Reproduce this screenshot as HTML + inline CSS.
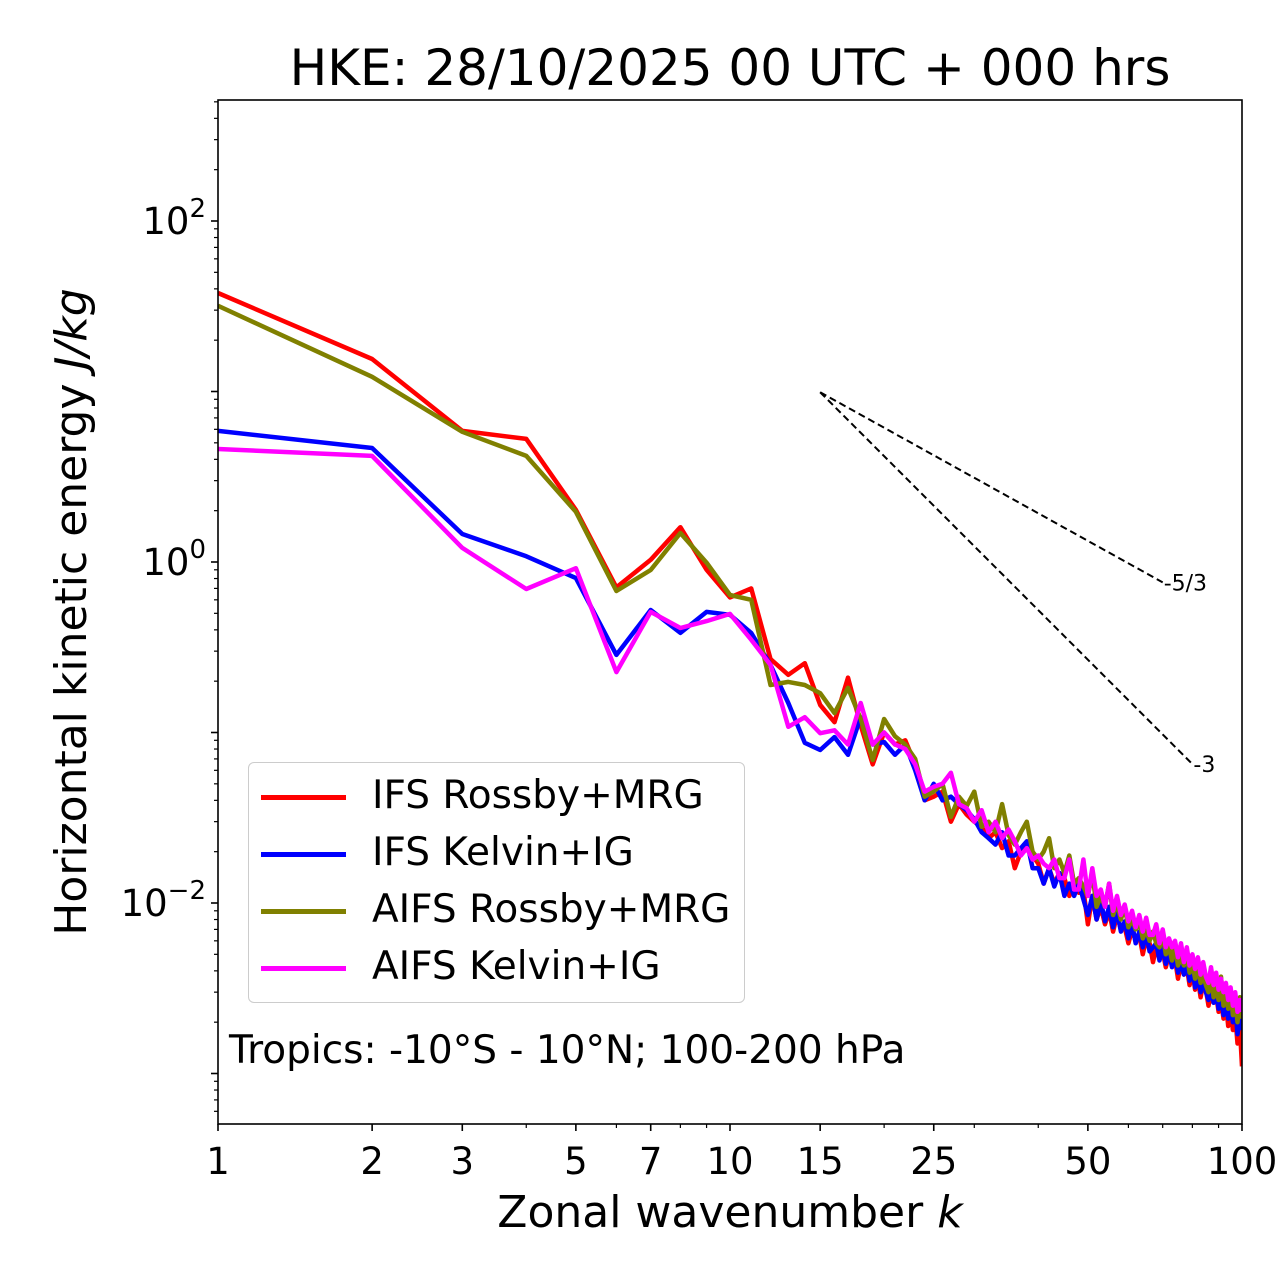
<!DOCTYPE html>
<html><head><meta charset="utf-8"><style>
body{margin:0;background:#fff;}
svg{display:block;font-family:"DejaVu Sans","Liberation Sans",sans-serif;}
</style></head><body>
<svg id="chart" width="1280" height="1288" viewBox="0 0 1280 1288">
<rect x="0" y="0" width="1280" height="1288" fill="#fff"/>
<g id="marks"></g>
<g id="axes"></g>
</svg>
<script>
const wavenumbers = Array.from({length:100},(_, i)=>i+1);
const ifsRossby = [37.8,15.5,5.87,5.27,2.02,0.71,1.03,1.6,0.9,0.62,0.7,0.27,0.218,0.255,0.145,0.115,0.21,0.11,0.065,0.1,0.085,0.09,0.065,0.04,0.042,0.045,0.03,0.038,0.033,0.03,0.028,0.024,0.026,0.021,0.023,0.016,0.02,0.022,0.019,0.017,0.013,0.016,0.013,0.015,0.014,0.011,0.013,0.0115,0.012,0.0075,0.011,0.008,0.0095,0.0075,0.009,0.0068,0.0085,0.007,0.0072,0.0058,0.007,0.006,0.0065,0.005,0.0062,0.0058,0.0045,0.0055,0.0048,0.0052,0.0042,0.005,0.0043,0.0047,0.0036,0.0044,0.0038,0.0042,0.0033,0.004,0.0031,0.0036,0.0028,0.0034,0.0031,0.0025,0.003,0.0026,0.0029,0.0023,0.0027,0.0021,0.0026,0.0019,0.0024,0.0018,0.0022,0.0015,0.0019,0.0011];
const ifsKelvin = [5.87,4.66,1.46,1.08,0.805,0.285,0.523,0.384,0.51,0.49,0.384,0.249,0.149,0.087,0.079,0.094,0.074,0.123,0.085,0.088,0.074,0.085,0.06,0.04,0.05,0.04,0.042,0.038,0.035,0.031,0.026,0.024,0.022,0.026,0.019,0.019,0.021,0.023,0.016,0.016,0.013,0.016,0.0125,0.015,0.011,0.013,0.011,0.013,0.0105,0.0085,0.011,0.008,0.0102,0.0078,0.0095,0.0072,0.009,0.0068,0.0078,0.0062,0.0075,0.0058,0.0068,0.0055,0.0066,0.0052,0.0055,0.0058,0.0046,0.0055,0.0044,0.0052,0.0042,0.005,0.0039,0.0046,0.0038,0.0044,0.0035,0.0042,0.0032,0.0038,0.003,0.0036,0.003,0.0027,0.0033,0.0026,0.0031,0.0024,0.0029,0.0022,0.0028,0.0021,0.0026,0.002,0.0025,0.0017,0.0021,0.0018];
const aifsRossby = [31.8,12.2,5.8,4.19,1.97,0.676,0.897,1.48,0.99,0.64,0.6,0.19,0.198,0.19,0.17,0.13,0.183,0.12,0.069,0.12,0.095,0.085,0.07,0.042,0.045,0.05,0.032,0.042,0.037,0.045,0.028,0.03,0.026,0.038,0.025,0.022,0.026,0.03,0.02,0.018,0.02,0.024,0.016,0.018,0.015,0.019,0.013,0.014,0.0125,0.011,0.015,0.0095,0.011,0.0095,0.013,0.0085,0.01,0.008,0.0095,0.0072,0.008,0.007,0.0078,0.0062,0.007,0.006,0.0068,0.0058,0.0055,0.0065,0.005,0.0055,0.0046,0.0056,0.0043,0.0048,0.0043,0.005,0.0039,0.0044,0.0036,0.0042,0.0034,0.0038,0.0033,0.003,0.0039,0.0028,0.0032,0.0027,0.0037,0.0025,0.003,0.0024,0.0031,0.0022,0.0027,0.002,0.0028,0.0021];
const aifsKelvin = [4.6,4.19,1.21,0.694,0.92,0.226,0.51,0.41,0.45,0.496,0.35,0.249,0.108,0.123,0.099,0.103,0.085,0.149,0.085,0.1,0.085,0.08,0.065,0.045,0.048,0.05,0.058,0.038,0.036,0.03,0.035,0.026,0.03,0.024,0.027,0.023,0.019,0.021,0.018,0.019,0.017,0.016,0.018,0.014,0.014,0.018,0.012,0.012,0.018,0.011,0.016,0.011,0.012,0.0095,0.013,0.009,0.011,0.0085,0.0098,0.0078,0.009,0.0072,0.0085,0.0068,0.0082,0.0065,0.0065,0.0075,0.0058,0.007,0.0055,0.0062,0.0055,0.006,0.0048,0.0058,0.0045,0.0055,0.0043,0.005,0.0041,0.0048,0.0038,0.0045,0.0037,0.0034,0.0042,0.0033,0.0039,0.0031,0.0036,0.003,0.0034,0.0027,0.0032,0.0025,0.003,0.0023,0.0027,0.0023];
const seriesNames = ["IFS Rossby+MRG","IFS Kelvin+IG","AIFS Rossby+MRG","AIFS Kelvin+IG"];
const seriesColors = ["#ff0000","#0000ff","#808000","#ff00ff"];
const xTickValues = [1,2,3,5,7,10,15,25,50,100];
const yTickExponents = [-2,0,2];
const refStartK = 15, refStartE = 9.9;
const refSlopes = [-5/3,-3];
const refEndK = [70,80];
const refLabels = ["-5/3","-3"];

const L=218,R=1242,T=100,B=1124;
const X=k=>L+(R-L)*Math.log10(k)/2;
const Y=v=>562-170.5*Math.log10(v);
const NS="http://www.w3.org/2000/svg";
function mk(tag,attrs,parent){const e=document.createElementNS(NS,tag);for(const a in attrs)e.setAttribute(a,attrs[a]);parent.appendChild(e);return e;}
const marks=document.getElementById('marks'), axes=document.getElementById('axes'), svg=document.getElementById('chart');

const clip=mk('clipPath',{id:'pc'},svg);mk('rect',{x:L,y:T,width:R-L,height:B-T},clip);
marks.setAttribute('clip-path','url(#pc)');
const allSeries=[ifsRossby,ifsKelvin,aifsRossby,aifsKelvin];
const keys=['ifs-rossby-line','ifs-kelvin-line','aifs-rossby-line','aifs-kelvin-line'];
allSeries.forEach((s,i)=>{
  const d=s.map((v,j)=>(j?'L':'M')+X(wavenumbers[j]).toFixed(1)+','+Y(v).toFixed(1)).join('');
  const p=mk('path',{d:d,fill:'none',stroke:seriesColors[i],'stroke-width':4.5,'stroke-linejoin':'round'},marks);
  
  
});
refSlopes.forEach((sl,i)=>{
  const e2=refStartE*Math.pow(refEndK[i]/refStartK,sl);
  const l=mk('line',{x1:X(refStartK),y1:Y(refStartE),x2:X(refEndK[i]),y2:Y(e2),stroke:'#000','stroke-width':2,'stroke-dasharray':'7,4'},marks);
  
  
  const t=mk('text',{x:X(refEndK[i])+1,y:Y(e2)+8,'font-size':22},axes);
  t.textContent=refLabels[i];
  
  
});
const fr=mk('rect',{x:L,y:T,width:R-L,height:B-T,fill:'none',stroke:'#000','stroke-width':1.6},axes);


xTickValues.forEach(k=>{
  const tk=mk('line',{x1:X(k),y1:B,x2:X(k),y2:B+7,stroke:'#000','stroke-width':1.6},axes);
  
  
  const t=mk('text',{x:X(k),y:B+50,'font-size':37,'text-anchor':'middle'},axes);
  t.textContent=String(k);
  
  
});
for(let d=1;d<=10;d*=10)for(let m=2;m<=9;m++){const k=m*d;if(xTickValues.includes(k))continue;
  const tk=mk('line',{x1:X(k),y1:B,x2:X(k),y2:B+4,stroke:'#000','stroke-width':1.2},axes);
  
  }
for(let e=-4;e<=3;e++){for(let m=1;m<=9;m++){const v=m*Math.pow(10,e);const y=Y(v);if(y<T-0.5||y>B+0.5)continue;
  const tk=mk('line',{x1:L-(m===1?7:4),y1:y,x2:L,y2:y,stroke:'#000','stroke-width':m===1?1.6:1.2},axes);
  
  }}
yTickExponents.forEach(e=>{
  const t=mk('text',{x:L-12,y:Y(Math.pow(10,e))+13,'font-size':37,'text-anchor':'end'},axes);
  t.innerHTML='10<tspan dy="-17" font-size="26">'+(e<0?'\u2212'+(-e):e)+'</tspan>';
  
  
});
</script>
<div style="position:absolute;left:0;top:0;width:1280px;height:1288px;pointer-events:none;font-family:'DejaVu Sans','Liberation Sans',sans-serif;">
  <div style="position:absolute;left:130px;top:38px;width:1200px;text-align:center;font-size:50px;line-height:60px;">HKE: 28/10/2025 00 UTC + 000 hrs</div>
  <div style="position:absolute;left:130px;top:1186px;width:1200px;text-align:center;font-size:44px;line-height:54px;">Zonal wavenumber <i>k</i></div>
  <div style="position:absolute;left:72px;top:612px;width:800px;margin-left:-400px;margin-top:-27px;text-align:center;font-size:44px;line-height:54px;transform:rotate(-90deg);">Horizontal kinetic energy <i>J/kg</i></div>
  <div style="position:absolute;left:248px;top:762px;width:495px;height:239px;border:1.5px solid #ccc;border-radius:6px;background:rgba(255,255,255,0.8);">
    <div style="position:absolute;left:12px;top:10px;font-size:39px;line-height:46px;white-space:nowrap;"><span style="display:inline-block;width:85px;height:5px;background:#ff0000;vertical-align:middle;margin-right:26px;"></span>IFS Rossby+MRG</div>
    <div style="position:absolute;left:12px;top:67px;font-size:39px;line-height:46px;white-space:nowrap;"><span style="display:inline-block;width:85px;height:5px;background:#0000ff;vertical-align:middle;margin-right:26px;"></span>IFS Kelvin+IG</div>
    <div style="position:absolute;left:12px;top:124px;font-size:39px;line-height:46px;white-space:nowrap;"><span style="display:inline-block;width:85px;height:5px;background:#808000;vertical-align:middle;margin-right:26px;"></span>AIFS Rossby+MRG</div>
    <div style="position:absolute;left:12px;top:181px;font-size:39px;line-height:46px;white-space:nowrap;"><span style="display:inline-block;width:85px;height:5px;background:#ff00ff;vertical-align:middle;margin-right:26px;"></span>AIFS Kelvin+IG</div>
  </div>
  <div style="position:absolute;left:229px;top:1028px;font-size:39px;line-height:46px;white-space:nowrap;">Tropics: -10°S - 10°N; 100-200 hPa</div>
</div>
</body></html>
